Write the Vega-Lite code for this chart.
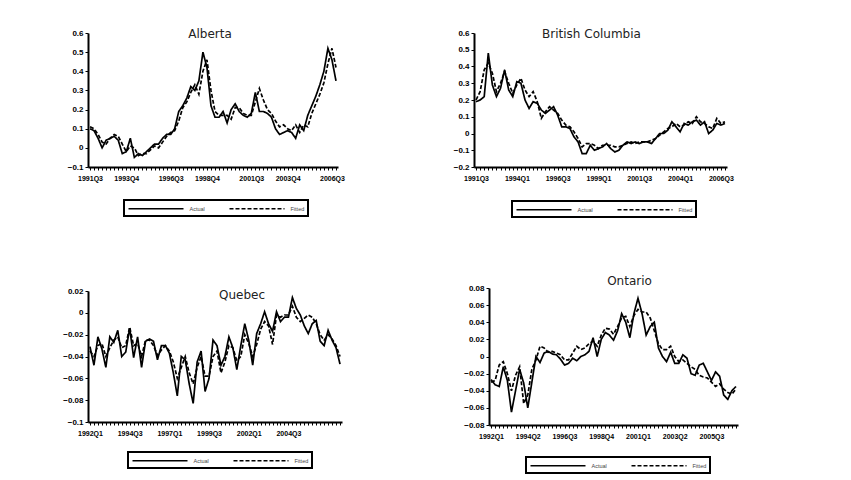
{
  "$schema": "https://vega.github.io/schema/vega-lite/v6.json",
  "background": "white",
  "padding": {"left": 62, "top": 28, "right": 0, "bottom": 0},
  "spacing": 57,
  "resolve": {
    "scale": {"x": "independent", "y": "independent", "strokeDash": "independent"},
    "legend": {"strokeDash": "independent"}
  },
  "datasets": {
    "ab": [
      {"p": "1991Q3", "Actual": 0.10, "Fitted": 0.11},
      {"p": "1991Q4", "Actual": 0.09, "Fitted": 0.10},
      {"p": "1992Q1", "Actual": 0.05, "Fitted": 0.07},
      {"p": "1992Q2", "Actual": 0.00, "Fitted": 0.03},
      {"p": "1992Q3", "Actual": 0.04, "Fitted": 0.02},
      {"p": "1992Q4", "Actual": 0.05, "Fitted": 0.05},
      {"p": "1993Q1", "Actual": 0.06, "Fitted": 0.07},
      {"p": "1993Q2", "Actual": 0.04, "Fitted": 0.06},
      {"p": "1993Q3", "Actual": -0.03, "Fitted": 0.02},
      {"p": "1993Q4", "Actual": -0.02, "Fitted": -0.02},
      {"p": "1994Q1", "Actual": 0.05, "Fitted": 0.01},
      {"p": "1994Q2", "Actual": -0.05, "Fitted": 0.00},
      {"p": "1994Q3", "Actual": -0.03, "Fitted": -0.04},
      {"p": "1994Q4", "Actual": -0.04, "Fitted": -0.03},
      {"p": "1995Q1", "Actual": -0.02, "Fitted": -0.03},
      {"p": "1995Q2", "Actual": 0.00, "Fitted": -0.01},
      {"p": "1995Q3", "Actual": 0.02, "Fitted": 0.01},
      {"p": "1995Q4", "Actual": 0.02, "Fitted": 0.00},
      {"p": "1996Q1", "Actual": 0.05, "Fitted": 0.03},
      {"p": "1996Q2", "Actual": 0.07, "Fitted": 0.06},
      {"p": "1996Q3", "Actual": 0.07, "Fitted": 0.08},
      {"p": "1996Q4", "Actual": 0.10, "Fitted": 0.09},
      {"p": "1997Q1", "Actual": 0.19, "Fitted": 0.14},
      {"p": "1997Q2", "Actual": 0.22, "Fitted": 0.21},
      {"p": "1997Q3", "Actual": 0.26, "Fitted": 0.24},
      {"p": "1997Q4", "Actual": 0.32, "Fitted": 0.29},
      {"p": "1998Q1", "Actual": 0.30, "Fitted": 0.33},
      {"p": "1998Q2", "Actual": 0.35, "Fitted": 0.28},
      {"p": "1998Q3", "Actual": 0.50, "Fitted": 0.40},
      {"p": "1998Q4", "Actual": 0.42, "Fitted": 0.46},
      {"p": "1999Q1", "Actual": 0.22, "Fitted": 0.30},
      {"p": "1999Q2", "Actual": 0.16, "Fitted": 0.19},
      {"p": "1999Q3", "Actual": 0.16, "Fitted": 0.17},
      {"p": "1999Q4", "Actual": 0.19, "Fitted": 0.17},
      {"p": "2000Q1", "Actual": 0.13, "Fitted": 0.17},
      {"p": "2000Q2", "Actual": 0.20, "Fitted": 0.15},
      {"p": "2000Q3", "Actual": 0.23, "Fitted": 0.21},
      {"p": "2000Q4", "Actual": 0.19, "Fitted": 0.21},
      {"p": "2001Q1", "Actual": 0.17, "Fitted": 0.18},
      {"p": "2001Q2", "Actual": 0.16, "Fitted": 0.17},
      {"p": "2001Q3", "Actual": 0.18, "Fitted": 0.17},
      {"p": "2001Q4", "Actual": 0.29, "Fitted": 0.24},
      {"p": "2002Q1", "Actual": 0.19, "Fitted": 0.31},
      {"p": "2002Q2", "Actual": 0.19, "Fitted": 0.25},
      {"p": "2002Q3", "Actual": 0.18, "Fitted": 0.20},
      {"p": "2002Q4", "Actual": 0.16, "Fitted": 0.18},
      {"p": "2003Q1", "Actual": 0.10, "Fitted": 0.14},
      {"p": "2003Q2", "Actual": 0.07, "Fitted": 0.11},
      {"p": "2003Q3", "Actual": 0.08, "Fitted": 0.12},
      {"p": "2003Q4", "Actual": 0.09, "Fitted": 0.10},
      {"p": "2004Q1", "Actual": 0.08, "Fitted": 0.09},
      {"p": "2004Q2", "Actual": 0.05, "Fitted": 0.12},
      {"p": "2004Q3", "Actual": 0.12, "Fitted": 0.08},
      {"p": "2004Q4", "Actual": 0.09, "Fitted": 0.12},
      {"p": "2005Q1", "Actual": 0.17, "Fitted": 0.11},
      {"p": "2005Q2", "Actual": 0.22, "Fitted": 0.18},
      {"p": "2005Q3", "Actual": 0.27, "Fitted": 0.23},
      {"p": "2005Q4", "Actual": 0.33, "Fitted": 0.28},
      {"p": "2006Q1", "Actual": 0.40, "Fitted": 0.34},
      {"p": "2006Q2", "Actual": 0.52, "Fitted": 0.44},
      {"p": "2006Q3", "Actual": 0.46, "Fitted": 0.52},
      {"p": "2006Q4", "Actual": 0.35, "Fitted": 0.42}
    ],
    "bc": [
      {"p": "1991Q3", "Actual": 0.19, "Fitted": 0.20},
      {"p": "1991Q4", "Actual": 0.20, "Fitted": 0.25},
      {"p": "1992Q1", "Actual": 0.22, "Fitted": 0.38},
      {"p": "1992Q2", "Actual": 0.48, "Fitted": 0.42},
      {"p": "1992Q3", "Actual": 0.29, "Fitted": 0.36},
      {"p": "1992Q4", "Actual": 0.22, "Fitted": 0.25},
      {"p": "1993Q1", "Actual": 0.27, "Fitted": 0.30},
      {"p": "1993Q2", "Actual": 0.38, "Fitted": 0.37},
      {"p": "1993Q3", "Actual": 0.26, "Fitted": 0.30},
      {"p": "1993Q4", "Actual": 0.22, "Fitted": 0.24},
      {"p": "1994Q1", "Actual": 0.31, "Fitted": 0.29},
      {"p": "1994Q2", "Actual": 0.30, "Fitted": 0.33},
      {"p": "1994Q3", "Actual": 0.20, "Fitted": 0.26},
      {"p": "1994Q4", "Actual": 0.15, "Fitted": 0.22},
      {"p": "1995Q1", "Actual": 0.19, "Fitted": 0.25},
      {"p": "1995Q2", "Actual": 0.18, "Fitted": 0.19},
      {"p": "1995Q3", "Actual": 0.14, "Fitted": 0.09},
      {"p": "1995Q4", "Actual": 0.12, "Fitted": 0.13},
      {"p": "1996Q1", "Actual": 0.14, "Fitted": 0.16},
      {"p": "1996Q2", "Actual": 0.16, "Fitted": 0.14},
      {"p": "1996Q3", "Actual": 0.11, "Fitted": 0.12},
      {"p": "1996Q4", "Actual": 0.04, "Fitted": 0.08},
      {"p": "1997Q1", "Actual": 0.04, "Fitted": 0.05},
      {"p": "1997Q2", "Actual": 0.03, "Fitted": 0.04},
      {"p": "1997Q3", "Actual": -0.02, "Fitted": 0.01},
      {"p": "1997Q4", "Actual": -0.05, "Fitted": -0.03},
      {"p": "1998Q1", "Actual": -0.12, "Fitted": -0.08},
      {"p": "1998Q2", "Actual": -0.12, "Fitted": -0.06},
      {"p": "1998Q3", "Actual": -0.07, "Fitted": -0.06},
      {"p": "1998Q4", "Actual": -0.10, "Fitted": -0.07},
      {"p": "1999Q1", "Actual": -0.09, "Fitted": -0.09},
      {"p": "1999Q2", "Actual": -0.08, "Fitted": -0.07},
      {"p": "1999Q3", "Actual": -0.06, "Fitted": -0.07},
      {"p": "1999Q4", "Actual": -0.09, "Fitted": -0.07},
      {"p": "2000Q1", "Actual": -0.11, "Fitted": -0.08},
      {"p": "2000Q2", "Actual": -0.10, "Fitted": -0.08},
      {"p": "2000Q3", "Actual": -0.07, "Fitted": -0.07},
      {"p": "2000Q4", "Actual": -0.05, "Fitted": -0.06},
      {"p": "2001Q1", "Actual": -0.06, "Fitted": -0.05},
      {"p": "2001Q2", "Actual": -0.05, "Fitted": -0.06},
      {"p": "2001Q3", "Actual": -0.06, "Fitted": -0.05},
      {"p": "2001Q4", "Actual": -0.05, "Fitted": -0.05},
      {"p": "2002Q1", "Actual": -0.05, "Fitted": -0.05},
      {"p": "2002Q2", "Actual": -0.06, "Fitted": -0.04},
      {"p": "2002Q3", "Actual": -0.03, "Fitted": -0.03},
      {"p": "2002Q4", "Actual": 0.00, "Fitted": -0.01},
      {"p": "2003Q1", "Actual": 0.00, "Fitted": 0.01},
      {"p": "2003Q2", "Actual": 0.02, "Fitted": 0.03},
      {"p": "2003Q3", "Actual": 0.07, "Fitted": 0.04},
      {"p": "2003Q4", "Actual": 0.04, "Fitted": 0.06},
      {"p": "2004Q1", "Actual": 0.01, "Fitted": 0.04},
      {"p": "2004Q2", "Actual": 0.06, "Fitted": 0.05},
      {"p": "2004Q3", "Actual": 0.05, "Fitted": 0.07},
      {"p": "2004Q4", "Actual": 0.07, "Fitted": 0.06},
      {"p": "2005Q1", "Actual": 0.08, "Fitted": 0.10},
      {"p": "2005Q2", "Actual": 0.05, "Fitted": 0.07},
      {"p": "2005Q3", "Actual": 0.07, "Fitted": 0.06},
      {"p": "2005Q4", "Actual": 0.00, "Fitted": 0.04},
      {"p": "2006Q1", "Actual": 0.02, "Fitted": 0.03},
      {"p": "2006Q2", "Actual": 0.06, "Fitted": 0.09},
      {"p": "2006Q3", "Actual": 0.05, "Fitted": 0.06},
      {"p": "2006Q4", "Actual": 0.06, "Fitted": 0.07}
    ],
    "qc": [
      {"p": "1992Q1", "Actual": -0.031, "Fitted": -0.035},
      {"p": "1992Q2", "Actual": -0.048, "Fitted": -0.040},
      {"p": "1992Q3", "Actual": -0.022, "Fitted": -0.030},
      {"p": "1992Q4", "Actual": -0.033, "Fitted": -0.028},
      {"p": "1993Q1", "Actual": -0.050, "Fitted": -0.040},
      {"p": "1993Q2", "Actual": -0.022, "Fitted": -0.032},
      {"p": "1993Q3", "Actual": -0.027, "Fitted": -0.025},
      {"p": "1993Q4", "Actual": -0.016, "Fitted": -0.022},
      {"p": "1994Q1", "Actual": -0.040, "Fitted": -0.032},
      {"p": "1994Q2", "Actual": -0.036, "Fitted": -0.030},
      {"p": "1994Q3", "Actual": -0.014, "Fitted": -0.013},
      {"p": "1994Q4", "Actual": -0.041, "Fitted": -0.030},
      {"p": "1995Q1", "Actual": -0.022, "Fitted": -0.028},
      {"p": "1995Q2", "Actual": -0.050, "Fitted": -0.040},
      {"p": "1995Q3", "Actual": -0.026, "Fitted": -0.025},
      {"p": "1995Q4", "Actual": -0.024, "Fitted": -0.025},
      {"p": "1996Q1", "Actual": -0.026, "Fitted": -0.030},
      {"p": "1996Q2", "Actual": -0.043, "Fitted": -0.039},
      {"p": "1996Q3", "Actual": -0.030, "Fitted": -0.034},
      {"p": "1996Q4", "Actual": -0.030, "Fitted": -0.030},
      {"p": "1997Q1", "Actual": -0.037, "Fitted": -0.035},
      {"p": "1997Q2", "Actual": -0.055, "Fitted": -0.045},
      {"p": "1997Q3", "Actual": -0.076, "Fitted": -0.060},
      {"p": "1997Q4", "Actual": -0.040, "Fitted": -0.050},
      {"p": "1998Q1", "Actual": -0.043, "Fitted": -0.040},
      {"p": "1998Q2", "Actual": -0.065, "Fitted": -0.055},
      {"p": "1998Q3", "Actual": -0.083, "Fitted": -0.065},
      {"p": "1998Q4", "Actual": -0.045, "Fitted": -0.050},
      {"p": "1999Q1", "Actual": -0.035, "Fitted": -0.040},
      {"p": "1999Q2", "Actual": -0.072, "Fitted": -0.058},
      {"p": "1999Q3", "Actual": -0.060, "Fitted": -0.058},
      {"p": "1999Q4", "Actual": -0.025, "Fitted": -0.040},
      {"p": "2000Q1", "Actual": -0.030, "Fitted": -0.035},
      {"p": "2000Q2", "Actual": -0.048, "Fitted": -0.055},
      {"p": "2000Q3", "Actual": -0.040, "Fitted": -0.045},
      {"p": "2000Q4", "Actual": -0.022, "Fitted": -0.030},
      {"p": "2001Q1", "Actual": -0.032, "Fitted": -0.032},
      {"p": "2001Q2", "Actual": -0.052, "Fitted": -0.044},
      {"p": "2001Q3", "Actual": -0.030, "Fitted": -0.040},
      {"p": "2001Q4", "Actual": -0.010, "Fitted": -0.020},
      {"p": "2002Q1", "Actual": -0.025, "Fitted": -0.028},
      {"p": "2002Q2", "Actual": -0.048, "Fitted": -0.040},
      {"p": "2002Q3", "Actual": -0.019, "Fitted": -0.029},
      {"p": "2002Q4", "Actual": -0.010, "Fitted": -0.015},
      {"p": "2003Q1", "Actual": 0.001, "Fitted": -0.008},
      {"p": "2003Q2", "Actual": -0.010, "Fitted": -0.012},
      {"p": "2003Q3", "Actual": -0.017, "Fitted": -0.029},
      {"p": "2003Q4", "Actual": 0.001, "Fitted": -0.002},
      {"p": "2004Q1", "Actual": -0.008, "Fitted": -0.004},
      {"p": "2004Q2", "Actual": -0.004, "Fitted": -0.002},
      {"p": "2004Q3", "Actual": -0.004, "Fitted": -0.002},
      {"p": "2004Q4", "Actual": 0.014, "Fitted": 0.006},
      {"p": "2005Q1", "Actual": 0.004, "Fitted": -0.004},
      {"p": "2005Q2", "Actual": -0.002, "Fitted": -0.008},
      {"p": "2005Q3", "Actual": -0.012, "Fitted": -0.005},
      {"p": "2005Q4", "Actual": -0.019, "Fitted": -0.002},
      {"p": "2006Q1", "Actual": -0.010, "Fitted": -0.004},
      {"p": "2006Q2", "Actual": -0.007, "Fitted": -0.010},
      {"p": "2006Q3", "Actual": -0.026, "Fitted": -0.020},
      {"p": "2006Q4", "Actual": -0.030, "Fitted": -0.025},
      {"p": "2007Q1", "Actual": -0.016, "Fitted": -0.020},
      {"p": "2007Q2", "Actual": -0.025, "Fitted": -0.024},
      {"p": "2007Q3", "Actual": -0.032, "Fitted": -0.030},
      {"p": "2007Q4", "Actual": -0.047, "Fitted": -0.040}
    ],
    "on": [
      {"p": "1992Q1", "Actual": -0.027, "Fitted": -0.030},
      {"p": "1992Q2", "Actual": -0.033, "Fitted": -0.028},
      {"p": "1992Q3", "Actual": -0.035, "Fitted": -0.010},
      {"p": "1992Q4", "Actual": -0.012, "Fitted": -0.006},
      {"p": "1993Q1", "Actual": -0.028, "Fitted": -0.020},
      {"p": "1993Q2", "Actual": -0.065, "Fitted": -0.040},
      {"p": "1993Q3", "Actual": -0.040, "Fitted": -0.022},
      {"p": "1993Q4", "Actual": -0.015, "Fitted": -0.012},
      {"p": "1994Q1", "Actual": -0.031, "Fitted": -0.055},
      {"p": "1994Q2", "Actual": -0.060, "Fitted": -0.045},
      {"p": "1994Q3", "Actual": -0.030, "Fitted": -0.015},
      {"p": "1994Q4", "Actual": 0.000, "Fitted": -0.004},
      {"p": "1995Q1", "Actual": -0.007, "Fitted": 0.012},
      {"p": "1995Q2", "Actual": 0.004, "Fitted": 0.010},
      {"p": "1995Q3", "Actual": 0.006, "Fitted": 0.005},
      {"p": "1995Q4", "Actual": 0.003, "Fitted": 0.006},
      {"p": "1996Q1", "Actual": 0.002, "Fitted": 0.004},
      {"p": "1996Q2", "Actual": -0.003, "Fitted": 0.002},
      {"p": "1996Q3", "Actual": -0.010, "Fitted": -0.004},
      {"p": "1996Q4", "Actual": -0.008, "Fitted": -0.004},
      {"p": "1997Q1", "Actual": -0.002, "Fitted": 0.004},
      {"p": "1997Q2", "Actual": -0.005, "Fitted": 0.012},
      {"p": "1997Q3", "Actual": 0.000, "Fitted": 0.008},
      {"p": "1997Q4", "Actual": 0.002, "Fitted": 0.010},
      {"p": "1998Q1", "Actual": 0.006, "Fitted": 0.015},
      {"p": "1998Q2", "Actual": 0.022, "Fitted": 0.018},
      {"p": "1998Q3", "Actual": 0.000, "Fitted": 0.012},
      {"p": "1998Q4", "Actual": 0.020, "Fitted": 0.025},
      {"p": "1999Q1", "Actual": 0.028, "Fitted": 0.033},
      {"p": "1999Q2", "Actual": 0.025, "Fitted": 0.032},
      {"p": "1999Q3", "Actual": 0.019, "Fitted": 0.026},
      {"p": "1999Q4", "Actual": 0.030, "Fitted": 0.035},
      {"p": "2000Q1", "Actual": 0.050, "Fitted": 0.045},
      {"p": "2000Q2", "Actual": 0.040, "Fitted": 0.047},
      {"p": "2000Q3", "Actual": 0.022, "Fitted": 0.035},
      {"p": "2000Q4", "Actual": 0.050, "Fitted": 0.048},
      {"p": "2001Q1", "Actual": 0.068, "Fitted": 0.055},
      {"p": "2001Q2", "Actual": 0.050, "Fitted": 0.052},
      {"p": "2001Q3", "Actual": 0.025, "Fitted": 0.052},
      {"p": "2001Q4", "Actual": 0.035, "Fitted": 0.045},
      {"p": "2002Q1", "Actual": 0.040, "Fitted": 0.030},
      {"p": "2002Q2", "Actual": 0.010, "Fitted": 0.015},
      {"p": "2002Q3", "Actual": 0.000, "Fitted": 0.008},
      {"p": "2002Q4", "Actual": -0.006, "Fitted": 0.008},
      {"p": "2003Q1", "Actual": 0.005, "Fitted": 0.012},
      {"p": "2003Q2", "Actual": -0.008, "Fitted": 0.000},
      {"p": "2003Q3", "Actual": -0.008, "Fitted": -0.006},
      {"p": "2003Q4", "Actual": 0.002, "Fitted": -0.004},
      {"p": "2004Q1", "Actual": -0.002, "Fitted": -0.008},
      {"p": "2004Q2", "Actual": -0.020, "Fitted": -0.012},
      {"p": "2004Q3", "Actual": -0.022, "Fitted": -0.015},
      {"p": "2004Q4", "Actual": -0.010, "Fitted": -0.022},
      {"p": "2005Q1", "Actual": -0.008, "Fitted": -0.024},
      {"p": "2005Q2", "Actual": -0.018, "Fitted": -0.025},
      {"p": "2005Q3", "Actual": -0.028, "Fitted": -0.030},
      {"p": "2005Q4", "Actual": -0.018, "Fitted": -0.035},
      {"p": "2006Q1", "Actual": -0.023, "Fitted": -0.032},
      {"p": "2006Q2", "Actual": -0.045, "Fitted": -0.038},
      {"p": "2006Q3", "Actual": -0.050, "Fitted": -0.042},
      {"p": "2006Q4", "Actual": -0.040, "Fitted": -0.044},
      {"p": "2007Q1", "Actual": -0.035, "Fitted": -0.038}
    ]
  },
  "vconcat": [
    {
      "bounds": "flush",
      "spacing": 136,
      "resolve": {
        "scale": {"x": "independent", "y": "independent", "strokeDash": "independent"},
        "legend": {"strokeDash": "independent"}
      },
      "hconcat": [
        {
          "width": 250,
          "height": 134,
          "data": {"name": "ab"},
          "transform": [{"fold": ["Actual", "Fitted"], "as": ["series", "value"]}],
          "title": {"text": "Alberta", "dx": -3, "offset": -12},
          "mark": {"type": "line"},
          "encoding": {
            "x": {
              "field": "p", "type": "ordinal",
              "axis": {"labelExpr": "indexof(['1991Q3','1993Q4','1996Q3','1998Q4','2001Q3','2003Q4','2006Q3'], datum.value) >= 0 ? datum.value : ''"}
            },
            "y": {
              "field": "value", "type": "quantitative",
              "scale": {"domain": [-0.1, 0.6], "nice": false, "zero": false},
              "axis": {"values": [-0.1, 0, 0.1, 0.2, 0.3, 0.4, 0.5, 0.6], "format": "~g"}
            },
            "strokeDash": {
              "field": "series", "type": "nominal",
              "scale": {"domain": ["Actual", "Fitted"], "range": [[1, 0], [4, 2]]},
              "legend": {"title": null, "orient": "none", "legendX": 36, "legendY": 167}
            }
          }
        },
        {
          "width": 253,
          "height": 134,
          "data": {"name": "bc"},
          "transform": [{"fold": ["Actual", "Fitted"], "as": ["series", "value"]}],
          "title": {"text": "British Columbia", "dx": -9, "offset": -12},
          "mark": {"type": "line"},
          "encoding": {
            "x": {
              "field": "p", "type": "ordinal",
              "axis": {"labelExpr": "indexof(['1991Q3','1994Q1','1996Q3','1999Q1','2001Q3','2004Q1','2006Q3'], datum.value) >= 0 ? datum.value : ''"}
            },
            "y": {
              "field": "value", "type": "quantitative",
              "scale": {"domain": [-0.2, 0.6], "nice": false, "zero": false},
              "axis": {"values": [-0.2, -0.1, 0, 0.1, 0.2, 0.3, 0.4, 0.5, 0.6], "format": "~g"}
            },
            "strokeDash": {
              "field": "series", "type": "nominal",
              "scale": {"domain": ["Actual", "Fitted"], "range": [[1, 0], [4, 2]]},
              "legend": {"title": null, "orient": "none", "legendX": 38, "legendY": 168}
            }
          }
        }
      ]
    },
    {
      "bounds": "flush",
      "spacing": 147,
      "center": true,
      "resolve": {
        "scale": {"x": "independent", "y": "independent", "strokeDash": "independent"},
        "legend": {"strokeDash": "independent"}
      },
      "hconcat": [
        {
          "width": 254,
          "height": 131,
          "data": {"name": "qc"},
          "transform": [{"fold": ["Actual", "Fitted"], "as": ["series", "value"]}],
          "title": {"text": "Quebec", "dx": 27, "offset": -15},
          "mark": {"type": "line"},
          "encoding": {
            "x": {
              "field": "p", "type": "ordinal",
              "axis": {"labelExpr": "indexof(['1992Q1','1994Q3','1997Q1','1999Q3','2002Q1','2004Q3'], datum.value) >= 0 ? datum.value : ''"}
            },
            "y": {
              "field": "value", "type": "quantitative",
              "scale": {"domain": [-0.1, 0.02], "nice": false, "zero": false},
              "axis": {"values": [-0.1, -0.08, -0.06, -0.04, -0.02, 0, 0.02], "format": "~g"}
            },
            "strokeDash": {
              "field": "series", "type": "nominal",
              "scale": {"domain": ["Actual", "Fitted"], "range": [[1, 0], [4, 2]]},
              "legend": {"title": null, "orient": "none", "legendX": 40, "legendY": 161}
            }
          }
        },
        {
          "width": 249,
          "height": 137,
          "data": {"name": "on"},
          "transform": [{"fold": ["Actual", "Fitted"], "as": ["series", "value"]}],
          "title": {"text": "Ontario", "dx": 16, "offset": -4},
          "mark": {"type": "line"},
          "encoding": {
            "x": {
              "field": "p", "type": "ordinal",
              "axis": {"labelExpr": "indexof(['1992Q1','1994Q2','1996Q3','1998Q4','2001Q1','2003Q2','2005Q3'], datum.value) >= 0 ? datum.value : ''"}
            },
            "y": {
              "field": "value", "type": "quantitative",
              "scale": {"domain": [-0.08, 0.08], "nice": false, "zero": false},
              "axis": {"values": [-0.08, -0.06, -0.04, -0.02, 0, 0.02, 0.04, 0.06, 0.08], "format": "~g"}
            },
            "strokeDash": {
              "field": "series", "type": "nominal",
              "scale": {"domain": ["Actual", "Fitted"], "range": [[1, 0], [4, 2]]},
              "legend": {"title": null, "orient": "none", "legendX": 37, "legendY": 169}
            }
          }
        }
      ]
    }
  ],
  "config": {
    "view": {"stroke": null},
    "line": {"color": "black", "strokeWidth": 1.7},
    "axis": {
      "grid": false,
      "title": null,
      "domainColor": "black",
      "domainWidth": 2,
      "tickColor": "black",
      "tickWidth": 1,
      "tickSize": 3,
      "labelColor": "black",
      "labelFont": "Liberation Sans",
      "labelFontWeight": "bold",
      "labelPadding": 2
    },
    "axisX": {"labelFontSize": 7, "labelAngle": 0, "labelOverlap": false, "labelPadding": 4},
    "axisY": {"labelFontSize": 8},
    "title": {
      "font": "DejaVu Sans",
      "fontSize": 12,
      "fontWeight": "normal",
      "color": "#222222",
      "anchor": "middle",
      "baseline": "middle",
      "frame": "group"
    },
    "legend": {
      "direction": "horizontal",
      "symbolType": "M-6.875,0H6.875",
      "symbolSize": 64,
      "symbolOffset": 23.5,
      "symbolStrokeWidth": 2,
      "symbolStrokeColor": "black",
      "labelFont": "Liberation Sans",
      "labelFontSize": 5.5,
      "labelColor": "#444444",
      "labelOffset": 28.5,
      "columnPadding": 20,
      "padding": 3.5,
      "strokeColor": "black",
      "strokeWidth": 2
    }
  }
}
